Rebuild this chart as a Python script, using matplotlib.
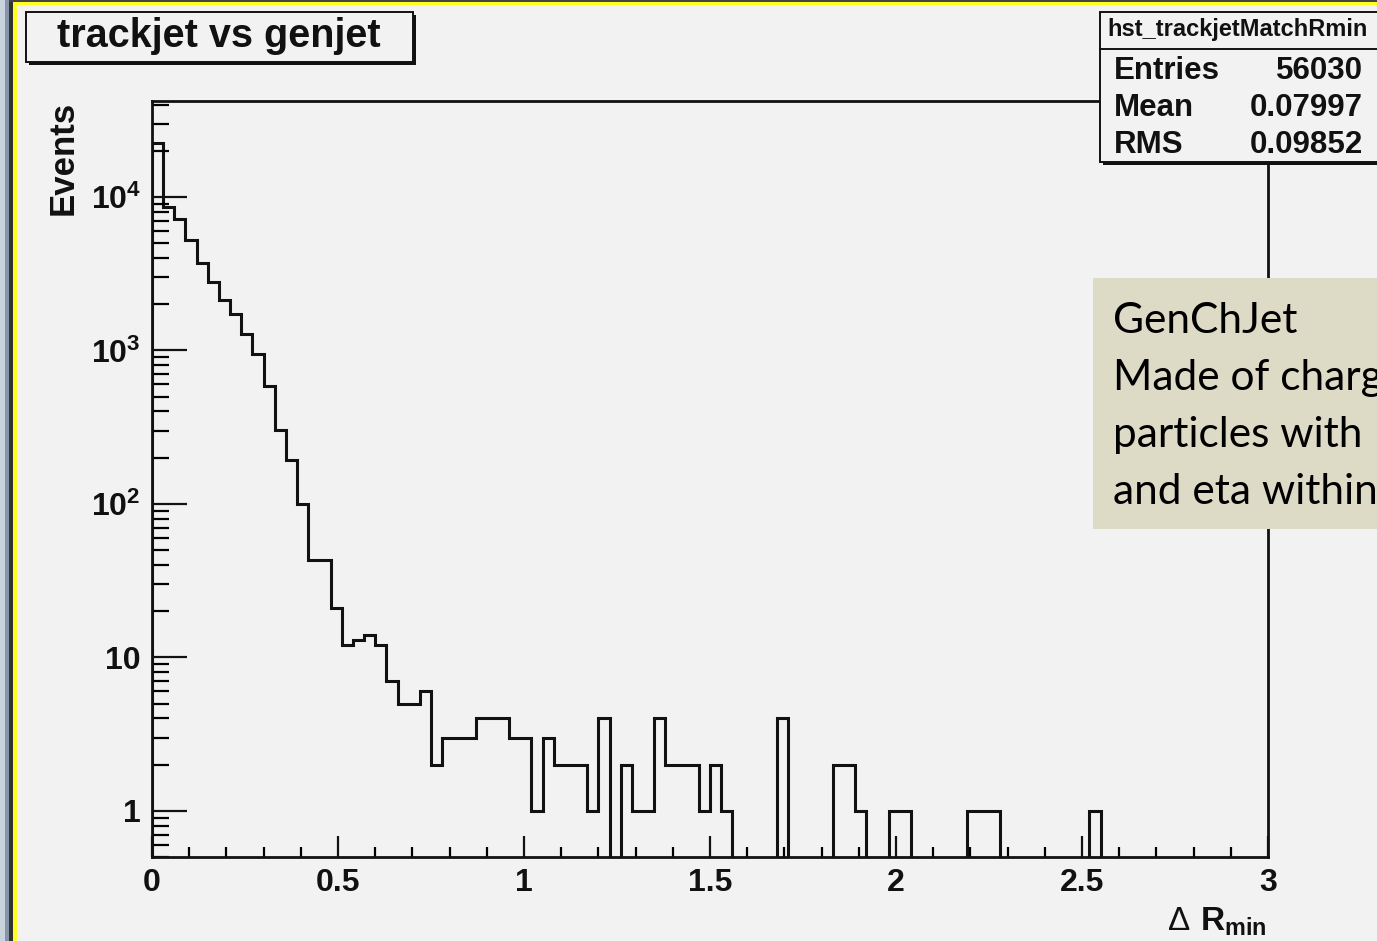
import numpy as np
import matplotlib
matplotlib.use("Agg")
import matplotlib.pyplot as plt
from matplotlib.patches import Rectangle
from matplotlib.ticker import FixedLocator, FixedFormatter, MultipleLocator, LogLocator, NullFormatter

plt.rcParams['font.family'] = ['Liberation Sans', 'DejaVu Sans']
plt.rcParams['mathtext.fontset'] = 'custom'
plt.rcParams['mathtext.rm'] = 'Liberation Sans'
plt.rcParams['mathtext.bf'] = 'Liberation Sans:bold'

# histogram: dR_min, 100 bins from 0 to 3
bin_edges = np.linspace(0, 3, 101)
counts = [22400, 8570, 7160, 5250, 3700, 2810, 2130, 1730, 1270, 943,
          587, 303, 194, 100, 43, 43, 21, 12, 13, 14,
          12, 7, 5, 5, 6, 2, 3, 3, 3, 4,
          4, 4, 3, 3, 1, 3, 2, 2, 2, 1,
          4, 0, 2, 1, 1, 4, 2, 2, 2, 1,
          2, 1, 0, 0, 0, 0, 4, 0, 0, 0,
          0, 2, 2, 1, 0, 0, 1, 1, 0, 0,
          0, 0, 0, 1, 1, 1, 0, 0, 0, 0,
          0, 0, 0, 0, 1, 0, 0, 0, 0, 0,
          0, 0, 0, 0, 0, 0, 0, 0, 0, 0]

x_ticks = [0, 0.5, 1, 1.5, 2, 2.5, 3]
x_ticklabels = ['0', '0.5', '1', '1.5', '2', '2.5', '3']
y_ticks = [1, 10, 100, 1000, 10000]
y_ticklabels = ['1', '10', r'$\mathbf{10^{2}}$', r'$\mathbf{10^{3}}$', r'$\mathbf{10^{4}}$']

stat_names = ['Entries', 'Mean', 'RMS']
stat_values = ['56030', '0.07997', '0.09852']
note_lines = ['GenChJet', 'Made of charged', 'particles with', 'and eta within']

W, H = 1377, 941
bg = '#f2f2f2'
ink = '#111111'


def fx(x):
    return x / W


def fy(y):
    return 1 - y / H


fig = plt.figure(figsize=(W / 100, H / 100), dpi=100)
fig.patch.set_facecolor(bg)

# window border (screenshot frame)
for x0, x1, c in [(0, 5, '#c9d3de'), (5, 9, '#8795a8'), (9, 13, '#333333'), (13, 17, '#ffff22')]:
    fig.add_artist(Rectangle((fx(x0), 0), fx(x1 - x0), 1, transform=fig.transFigure,
                             color=c, lw=0, zorder=10))
fig.add_artist(Rectangle((fx(9), fy(2)), 1, 2 / H, transform=fig.transFigure,
                         color='#444444', lw=0, zorder=10))
fig.add_artist(Rectangle((fx(13), fy(5)), 1, 3 / H, transform=fig.transFigure,
                         color='#ffff22', lw=0, zorder=10))

ax = fig.add_axes([fx(152), fy(857), fx(1268 - 152), (857 - 101) / H])
ax.set_facecolor(bg)
ax.set_yscale('log')
ax.set_xlim(0, 3)
ax.set_ylim(0.5, 4.22e4)

vals = np.array(counts, dtype=float)
vals = np.where(vals > 0, vals, 1e-3)
ax.stairs(vals, bin_edges, baseline=1e-3, fill=False, color=ink, lw=2.2)

for s in ax.spines.values():
    s.set_linewidth(2.0)
    s.set_color(ink)

ax.xaxis.set_major_locator(FixedLocator(x_ticks))
ax.xaxis.set_major_formatter(FixedFormatter(x_ticklabels))
ax.xaxis.set_minor_locator(MultipleLocator(0.1))
ax.yaxis.set_major_locator(FixedLocator(y_ticks))
ax.yaxis.set_major_formatter(FixedFormatter(y_ticklabels))
ax.yaxis.set_minor_locator(LogLocator(base=10, subs=np.arange(2, 10)))
ax.yaxis.set_minor_formatter(NullFormatter())

ax.tick_params(axis='x', which='major', direction='in', length=15, width=1.6,
               top=False, labelsize=23, pad=8, colors=ink)
ax.tick_params(axis='x', which='minor', direction='in', length=7, width=1.6, top=False)
ax.tick_params(axis='y', which='major', direction='in', length=25, width=1.6,
               right=False, labelsize=23, pad=8, colors=ink)
ax.tick_params(axis='y', which='minor', direction='in', length=12, width=1.6, right=False)
for lab in ax.get_xticklabels() + ax.get_yticklabels():
    lab.set_fontweight('bold')

# axis titles
fig.text(fx(63), fy(101), 'Events', rotation=90, ha='center', va='top',
         fontsize=25, fontweight='bold', color=ink)
fig.text(fx(1267), fy(930), r'$\Delta\ \mathbf{R}_{\mathbf{min}}$', ha='right',
         va='baseline', fontsize=24, color=ink)

# title box with shadow
fig.add_artist(Rectangle((fx(29), fy(65)), fx(413 - 26), 50 / H, transform=fig.transFigure,
                         facecolor=ink, lw=0, zorder=4))
fig.add_artist(Rectangle((fx(26), fy(62)), fx(413 - 26), 50 / H, transform=fig.transFigure,
                         facecolor=bg, edgecolor=ink, lw=1.4, zorder=4))
fig.text(fx(219), fy(47), 'trackjet vs genjet', ha='center', va='baseline',
         fontsize=28.5, fontweight='bold', color=ink, zorder=5)

# stats box
fig.add_artist(Rectangle((fx(1103), fy(165)), fx(400), 150 / H, transform=fig.transFigure,
                         facecolor=ink, lw=0, zorder=4))
fig.add_artist(Rectangle((fx(1100), fy(162)), fx(400), 150 / H, transform=fig.transFigure,
                         facecolor=bg, edgecolor=ink, lw=1.4, zorder=4))
fig.add_artist(plt.Line2D([fx(1100), 1], [fy(49), fy(49)], transform=fig.transFigure,
                          color=ink, lw=1.4, zorder=5))
fig.text(fx(1107), fy(36), 'hst_trackjetMatchRmin', ha='left', va='baseline',
         fontsize=17, fontweight='bold', color=ink, zorder=5)
for i, (nm, v) in enumerate(zip(stat_names, stat_values)):
    yb = 79 + 37 * i
    fig.text(fx(1114), fy(yb), nm, ha='left', va='baseline', fontsize=22.5,
             fontweight='bold', color=ink, zorder=5)
    fig.text(fx(1363), fy(yb), v, ha='right', va='baseline', fontsize=22.5,
             fontweight='bold', color=ink, zorder=5)

# annotation box (text runs past the right edge, as in the original slide)
fig.add_artist(Rectangle((fx(1093), fy(529)), fx(400), (529 - 278) / H,
                         transform=fig.transFigure, facecolor='#dddac6', lw=0, zorder=4))
for i, line in enumerate(note_lines):
    fig.text(fx(1113), fy(333 + 57 * i), line, ha='left', va='baseline',
             fontsize=30.5, family=['Lato', 'DejaVu Sans'], color='black', zorder=5)

fig.savefig('out.png', dpi=100, facecolor=bg)
